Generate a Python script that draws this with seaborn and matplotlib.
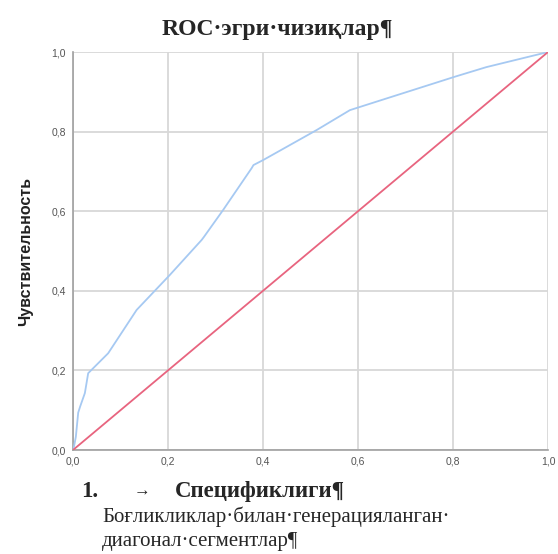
import matplotlib
matplotlib.use("Agg")
import matplotlib.pyplot as plt
import matplotlib.ticker as mticker
import seaborn as sns
import pandas as pd

# ROC curve values (1 - specificity, sensitivity)
fpr = [0.0, 0.002, 0.006, 0.011, 0.015, 0.025, 0.032, 0.074, 0.134, 0.204,
       0.271, 0.276, 0.316, 0.376, 0.380, 0.401, 0.513, 0.583, 0.646, 0.804,
       0.870, 1.0]
tpr = [0.0, 0.008, 0.033, 0.094, 0.109, 0.143, 0.193, 0.243, 0.352, 0.440,
       0.528, 0.536, 0.603, 0.708, 0.716, 0.729, 0.804, 0.854, 0.878, 0.938,
       0.962, 1.0]
diag_x = [0.0, 1.0]
diag_y = [0.0, 1.0]
ticks = [0.0, 0.2, 0.4, 0.6, 0.8, 1.0]

title = "ROC·эгри·чизиқлар¶"
ylabel = "Чувствительность"
list_num = "1."
list_arrow = "→"
xlabel = "Спецификлиги¶"
note_lines = ["Боғликликлар·билан·генерацияланган·", "диагонал·сегментлар¶"]

serif = ["Liberation Serif", "DejaVu Serif"]


def main():
    sns.set_style("white")
    plt.rcParams["font.family"] = ["Liberation Sans", "DejaVu Sans"]

    fig = plt.figure(figsize=(5.58, 5.54), dpi=100)
    ax = fig.add_axes([0.1308, 0.1877, 0.8513, 0.7184])

    roc = pd.DataFrame({"x": fpr, "y": tpr})
    diag = pd.DataFrame({"x": diag_x, "y": diag_y})

    sns.lineplot(data=roc, x="x", y="y", ax=ax, sort=False, estimator=None,
                 color="#a6c9f2", linewidth=1.3, zorder=3)
    sns.lineplot(data=diag, x="x", y="y", ax=ax, sort=False, estimator=None,
                 color="#e8647f", linewidth=1.3, zorder=3)

    ax.set_xlim(0, 1)
    ax.set_ylim(0, 1)
    ax.set_xticks(ticks)
    ax.set_yticks(ticks)
    fmt = mticker.FuncFormatter(lambda v, p: f"{v:.1f}".replace(".", ","))
    ax.xaxis.set_major_formatter(fmt)
    ax.yaxis.set_major_formatter(fmt)
    ax.tick_params(axis="both", labelsize=7.5, colors="#555555", length=3,
                   width=0.8, pad=2)
    ax.tick_params(axis="x", length=0, pad=5)

    ax.grid(True, color="#d8d8d8", linewidth=1.3)
    ax.set_axisbelow(True)
    for side in ["top", "right"]:
        ax.spines[side].set_visible(False)
    for side in ["left", "bottom"]:
        ax.spines[side].set_color("#a0a0a0")
        ax.spines[side].set_linewidth(1.2)

    ax.set_xlabel("")
    ax.set_ylabel(ylabel, fontsize=11.5, fontweight="bold", color="#222222",
                  labelpad=13)

    fig.text(0.497, 0.947, title, ha="center", va="center", fontsize=17,
             fontweight="bold", family=serif)
    fig.text(0.145, 0.112, list_num, ha="left", va="center", fontsize=16.5,
             fontweight="bold", family=serif)
    fig.text(0.240, 0.112, list_arrow, ha="left", va="center", fontsize=12,
             family=serif)
    fig.text(0.314, 0.112, xlabel, ha="left", va="center", fontsize=16.5,
             fontweight="bold", family=serif)
    fig.text(0.183, 0.067, note_lines[0], ha="left", va="center",
             fontsize=15, family=serif)
    fig.text(0.183, 0.022, note_lines[1], ha="left", va="center",
             fontsize=15, family=serif)

    fig.savefig("out.png", dpi=100)


if __name__ == "__main__":
    main()
